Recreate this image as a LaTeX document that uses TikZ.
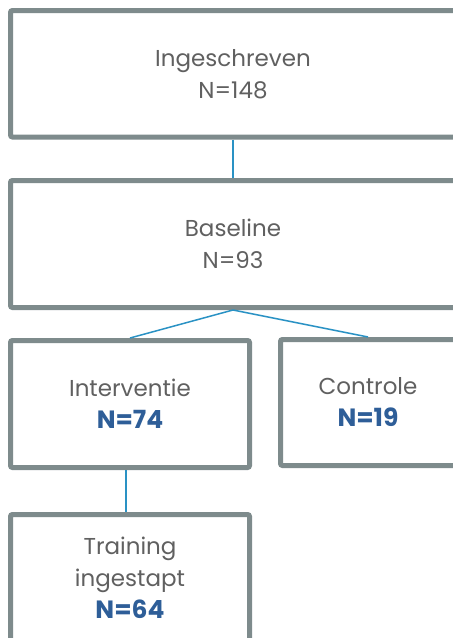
\documentclass[tikz,border=0pt]{standalone}
\usepackage{fontspec}
\setmainfont{Poppins}
\definecolor{framegray}{RGB}{126,139,140}
\definecolor{textgray}{RGB}{96,96,96}
\definecolor{linkblue}{RGB}{42,146,196}
\definecolor{countblue}{RGB}{46,94,152}
\tikzset{
  stagebox/.style={draw=framegray, line width=5pt, rounded corners=2pt, fill=white,
    text=textgray, align=center, font=\fontsize{23}{32}\selectfont},
  link/.style={draw=linkblue, line width=1.5pt},
}
\newcommand{\ncount}[1]{{\fontsize{25}{32}\selectfont\bfseries\color{countblue}#1}}
\begin{document}
\begin{tikzpicture}[x=1pt, y=-1pt]
      \useasboundingbox (0,0) rectangle (453,638);
      \clip (0,0) rectangle (453,638);
      % Nodes
      \node[stagebox, minimum width=445pt, minimum height=126.5pt] (enrolled) at (233,73.75) {Ingeschreven\\N=148};
      \node[stagebox, minimum width=445pt, minimum height=127pt] (baseline) at (233,244) {Baseline\\N=93};
      \node[stagebox, minimum width=239pt, minimum height=127pt] (intervention) at (130,404) {Interventie\\\ncount{N=74}};
      \node[stagebox, minimum width=175pt, minimum height=126pt] (control) at (368,402.5) {Controle\\\ncount{N=19}};
      \node[stagebox, minimum width=239pt, minimum height=127pt] (training) at (130,578) {Training\\ingestapt\\\ncount{N=64}};

      % Connections
      \draw[link] (enrolled.south) -- (baseline.north);
      \draw[link] (baseline.south) -- (intervention.north);
      \draw[link] (baseline.south) -- (control.north);
      \draw[link] ([xshift=-4pt]intervention.south) -- ([xshift=-4pt]training.north);
\end{tikzpicture}
\end{document}
